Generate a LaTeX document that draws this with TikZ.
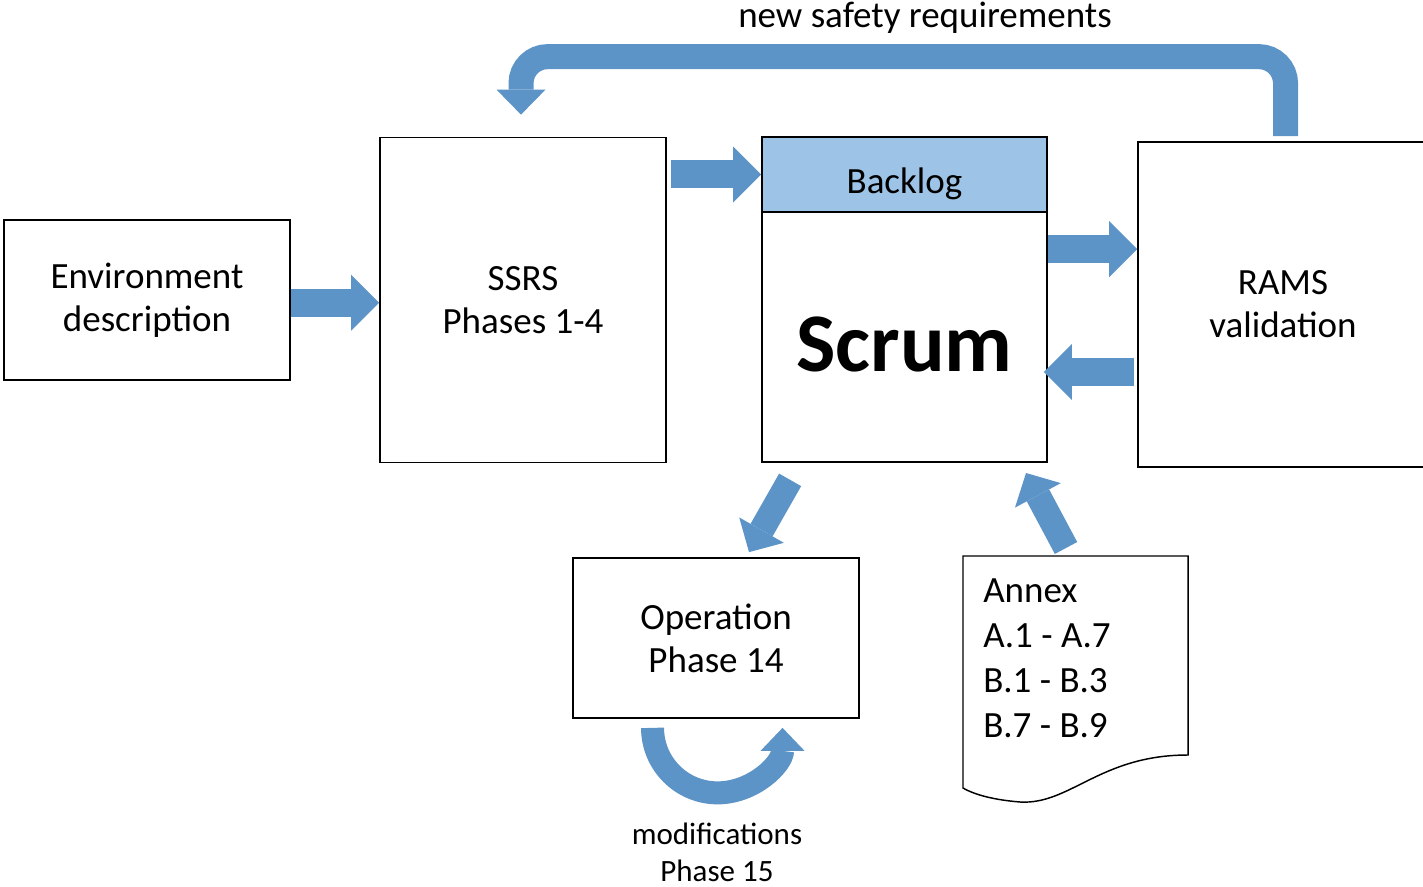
\documentclass[tikz,border=0pt]{standalone}
\usepackage{fontspec}
\setmainfont{Carlito}
\usetikzlibrary{positioning}
\usetikzlibrary{arrows.meta}
\usetikzlibrary{calc}
\definecolor{arrowblue}{RGB}{93,148,200}
\definecolor{backlogblue}{RGB}{157,195,230}

\begin{document}
\begin{tikzpicture}[
            x = 0.75pt, y = -0.75pt, % pixel grid, y pointing down
            box/.style = {
                draw,
                line width = 1.3pt,
                minimum width = 214.5pt,
                align = center,
                font = \fontsize{27.75}{32.25}\selectfont
            },
            blockarrow/.style 2 args = {
                draw = arrowblue,
                line width = #1, % shaft
                -{Triangle[length = #1, width = #2, line width = 0pt]}
            }
        ]

        \useasboundingbox (0,0) rectangle (1423,887);

        % boxes
        \node[box, minimum height = 120pt] (env) at (147,300) {Environment\\description};
        \node[box, minimum height = 243.75pt, right = 66.2pt of env] (ssrs) {SSRS\\Phases 1-4};
        \node[box, minimum width = 213.75pt, minimum height = 187.5pt,
              font = \fontsize{62.5}{70}\selectfont\bfseries,
              text height = 52.5pt, text depth = 0pt] (scrum) at (904.5,337) {Scrum};
        \node[box, minimum width = 213.75pt, minimum height = 56.25pt, fill = backlogblue,
              text height = 29.25pt, text depth = 0pt, above = -1.3pt of scrum] (backlog) {Backlog};
        \node[box, minimum width = 217.5pt, minimum height = 243.75pt] (rams) at (1283,304.5) {RAMS\\validation};
        \node[box, minimum height = 120pt] (oper) at (716,638) {Operation\\Phase 14};

        % annex document
        \draw[line width = 1.1pt] (963,556) -- (1188,556) -- (1188,755)
            .. controls (1100,755) and (1070,805) .. (1020,802)
            .. controls (995,800) and (975,795) .. (963,788) -- cycle;
        \node[anchor = west, align = left, inner sep = 0pt,
              font = \fontsize{27.75}{33.75}\selectfont] (annex) at (983,658)
              {Annex\\A.1 - A.7\\B.1 - B.3\\B.7 - B.9};

        % labels
        \node[inner sep = 0pt, font = \fontsize{27.75}{32.25}\selectfont] (newreqlabel) at (925,18) {new safety requirements};
        \node[align = center, inner sep = 0pt, font = \fontsize{23.25}{27.75}\selectfont] (modlabel) at (717,852) {modifications\\Phase 15};

        % end points
        \coordinate (s2r) at ([yshift = -28.5pt]scrum.north east);
        \coordinate (r2s) at ([yshift = -26.25pt]scrum.east);
        \coordinate (s2o) at ([xshift = 21.75pt, yshift = -12.75pt]scrum.south west);
        \coordinate (o2s) at ([xshift = 24.75pt, yshift = 3.75pt]oper.north);
        \coordinate (a2s) at (1066,548);
        \coordinate (tipa) at (1026,473);
        \coordinate (ramstop) at ([xshift = 1.9pt, yshift = 3.75pt]rams.north);
        \coordinate (newreq) at ([xshift = -1.5pt, yshift = 16.5pt]ssrs.north);

        % arrows
        \draw[blockarrow = {21pt}{42pt}] ([yshift = -2pt]env.east) -- ([yshift = -2pt]ssrs.west);
        \draw[blockarrow = {21pt}{42pt}] ([xshift = 3pt]ssrs.east |- backlog.west) -- (backlog.west);
        \draw[blockarrow = {21pt}{42pt}] (s2r) -- (s2r -| rams.west);
        \draw[blockarrow = {21pt}{42pt}] ([xshift = -2pt]r2s -| rams.west) -- ([xshift = -3pt]r2s);
        \draw[blockarrow = {19pt}{38.5pt}] (s2o) -- (o2s);
        \draw[blockarrow = {19pt}{39pt}] (a2s) -- (tipa);

        \draw[blockarrow = {18.75pt}{36.75pt}, rounded corners = 20pt]
            (ramstop) -- ++(0,-79.5) -| (newreq);
        \draw[blockarrow = {17.25pt}{33pt}]
            ([xshift = -47.6pt, yshift = -6.75pt]oper.south) arc[start angle = 180, end angle = 360, radius = 48.75pt];

\end{tikzpicture}
\end{document}
